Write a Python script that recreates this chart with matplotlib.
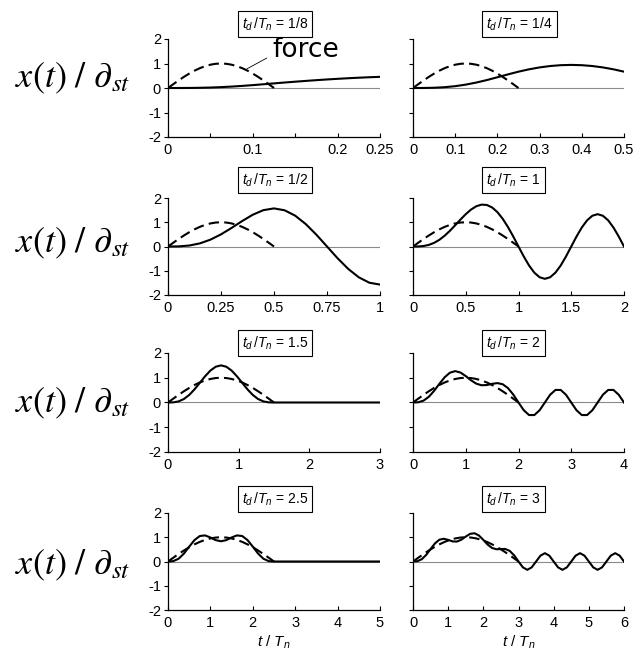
import numpy as np
import matplotlib.pyplot as plt

plt.rcParams['font.family'] = ['Liberation Sans', 'DejaVu Sans']
plt.rcParams['mathtext.fontset'] = 'custom'
plt.rcParams['mathtext.it'] = 'Liberation Sans:italic'
plt.rcParams['mathtext.rm'] = 'Liberation Sans'

# panel settings: td/Tn ratio, end of time axis (in t/Tn), tick labels
td_ratio = [1/8, 1/4, 1/2, 1, 1.5, 2, 2.5, 3]
td_text = ['1/8', '1/4', '1/2', '1', '1.5', '2', '2.5', '3']
t_end = [0.25, 0.5, 1, 2, 3, 4, 5, 6]
tick_labels = [['0', '0.1', '0.2', '0.25'],
               ['0', '0.1', '0.2', '0.3', '0.4', '0.5'],
               ['0', '0.25', '0.5', '0.75', '1'],
               ['0', '0.5', '1', '1.5', '2'],
               ['0', '1', '2', '3'],
               ['0', '1', '2', '3', '4'],
               ['0', '1', '2', '3', '4', '5'],
               ['0', '1', '2', '3', '4', '5', '6']]

# half-sine force, read at 21 even steps over the pulse
force = [0, 0.156, 0.309, 0.454, 0.588, 0.707, 0.809, 0.891, 0.951, 0.988, 1,
         0.988, 0.951, 0.891, 0.809, 0.707, 0.588, 0.454, 0.309, 0.156, 0]

# response x(t)/dst, read at even steps over each whole axis
resp_1 = [0, 0.0003, 0.0025, 0.0083, 0.019, 0.0354, 0.0577, 0.0854, 0.1176, 0.1526, 0.1886,
          0.2237, 0.2574, 0.2896, 0.32, 0.3484, 0.3747, 0.3986, 0.4201, 0.439, 0.4552]
resp_2 = [0, 0.0013, 0.0101, 0.033, 0.0748, 0.1381, 0.2223, 0.3243, 0.4381, 0.5555, 0.6667,
          0.7628, 0.8401, 0.8967, 0.9312, 0.9428, 0.9312, 0.8967, 0.8401, 0.7628, 0.6667]
resp_3 = [0, 0.0051, 0.0397, 0.1275, 0.2814, 0.5, 0.7668, 1.0508, 1.3105, 1.499, 1.5708,
          1.4939, 1.2708, 0.9233, 0.4854, 0, -0.4854, -0.9233, -1.2708, -1.4939, -1.5708]
resp_4 = [0, 0.0026, 0.0202, 0.066, 0.1497, 0.2761, 0.4447, 0.6487, 0.8762, 1.1109, 1.3333,
          1.5229, 1.6599, 1.7274, 1.7127, 1.6095, 1.4178, 1.1447, 0.8039, 0.4146, 0,
          -0.412, -0.7837, -1.0787, -1.2681, -1.3333, -1.2681, -1.0787, -0.7837, -0.412, 0,
          0.412, 0.7837, 1.0787, 1.2681, 1.3333, 1.2681, 1.0787, 0.7837, 0.412, 0]
resp_5 = [0, 0.0057, 0.0443, 0.1404, 0.3046, 0.5303, 0.7943, 1.061, 1.2904, 1.4453, 1.5,
          1.4453, 1.2904, 1.061, 0.7943, 0.5303, 0.3046, 0.1404, 0.0443, 0.0057, 0,
          0, 0, 0, 0, 0, 0, 0, 0, 0, 0, 0, 0, 0, 0, 0, 0, 0, 0, 0, 0]
resp_6 = [0, 0.0101, 0.076, 0.2306, 0.4702, 0.7542, 1.0197, 1.204, 1.2681, 1.2103, 1.0667,
          0.8968, 0.7608, 0.6968, 0.7062, 0.7542, 0.7837, 0.7379, 0.5832, 0.3236, 0,
          -0.3135, -0.5072, -0.5072, -0.3135, 0, 0.3135, 0.5072, 0.5072, 0.3135, 0,
          -0.3135, -0.5072, -0.5072, -0.3135, 0, 0.3135, 0.5072, 0.5072, 0.3135, 0]
resp_7 = [0, 0.0156, 0.1136, 0.3256, 0.6123, 0.8839, 1.0511, 1.0755, 0.9907, 0.8815, 0.8333,
          0.8815, 0.9907, 1.0755, 1.0511, 0.8839, 0.6123, 0.3256, 0.1136, 0.0156, 0,
          0, 0, 0, 0, 0, 0, 0, 0, 0, 0, 0, 0, 0, 0, 0, 0, 0, 0, 0, 0]
resp_8 = [0, 0.013, 0.0948, 0.2724, 0.5143, 0.7474, 0.8987, 0.9372, 0.8908, 0.8291, 0.8221,
          0.8986, 1.0286, 1.141, 1.165, 1.0715, 0.8908, 0.6948, 0.5559, 0.5049, 0.5143,
          0.5148, 0.4377, 0.2555, 0,
          -0.2424, -0.3429, -0.2424, 0, 0.2424, 0.3429, 0.2424, 0,
          -0.2424, -0.3429, -0.2424, 0, 0.2424, 0.3429, 0.2424, 0,
          -0.2424, -0.3429, -0.2424, 0, 0.2424, 0.3429, 0.2424, 0]
responses = [resp_1, resp_2, resp_3, resp_4, resp_5, resp_6, resp_7, resp_8]

W, H = 636, 651
fig = plt.figure(figsize=(W / 100, H / 100), dpi=100)

cols = [(168, 380), (413, 624)]                     # pixel left/right
rows = [(39, 137), (198, 295), (353, 452), (513, 610)]  # pixel top/bottom
title_y = [24, 180, 343, 499]
title_x = [242, 486]
ylab_y = [78, 243, 403, 565]

for i in range(8):
    r, c = i // 2, i % 2
    x0, x1 = cols[c]
    y0, y1 = rows[r]
    ax = fig.add_axes([x0 / W, 1 - y1 / H, (x1 - x0) / W, (y1 - y0) / H])

    resp = responses[i]
    t = np.linspace(0, t_end[i], len(resp))
    tf = np.linspace(0, td_ratio[i], len(force))
    ax.axhline(0, color='#8a8a8a', lw=0.8, zorder=1)
    ax.plot(tf, force, color='black', lw=1.5, ls=(0, (5, 2.5)), zorder=2)
    ax.plot(t, resp, color='black', lw=1.5, zorder=3)

    ax.set_xlim(0, t_end[i])
    ax.set_ylim(-2, 2)
    for s in ['top', 'right']:
        ax.spines[s].set_visible(False)
    ax.spines['left'].set_linewidth(0.9)
    ax.spines['bottom'].set_linewidth(0.9)

    ticks = [float(v) for v in tick_labels[i]]
    ax.set_xticks(ticks)
    ax.set_xticklabels(tick_labels[i])
    if i == 0:
        ax.set_xticks([0.05, 0.15], minor=True)
    ax.tick_params(axis='x', which='both', direction='in', length=3, width=0.8,
                   labelsize=10.5, pad=4)
    ax.set_yticks([-2, -1, 0, 1, 2])
    ax.tick_params(axis='y', direction='out', length=3, width=0.8, labelsize=10.5, pad=2)
    if c == 0:
        ax.set_yticklabels(['-2', '-1', '0', '1', '2'])
    else:
        ax.set_yticklabels([])

    fig.text(title_x[c] / W, 1 - title_y[r] / H,
             r'$t_d\,/T_n$ = ' + td_text[i], ha='left', va='center', fontsize=10,
             bbox=dict(boxstyle='square,pad=0.3', fc='white', ec='black', lw=0.8))

    if c == 0:
        fig.text(15 / W, 1 - ylab_y[r] / H, r'$x(t)\ /\ \partial_{st}$',
                 ha='left', va='center', fontsize=26, math_fontfamily='stix')

    if r == 3:
        fig.text((x0 + x1) / 2 / W, 1 - 642 / H, r'$t\ /\ T_n$',
                 ha='center', va='center', fontsize=11)

    if i == 0:
        ax.annotate('force', xy=(0.093, 0.78), xytext=(0.1226, 1.55),
                    fontsize=19, family='DejaVu Sans', va='center', ha='left',
                    arrowprops=dict(arrowstyle='-', lw=0.6, color='black',
                                    relpos=(0, 0.3), shrinkA=2, shrinkB=0))

fig.savefig('out.png', dpi=100, facecolor='white')
